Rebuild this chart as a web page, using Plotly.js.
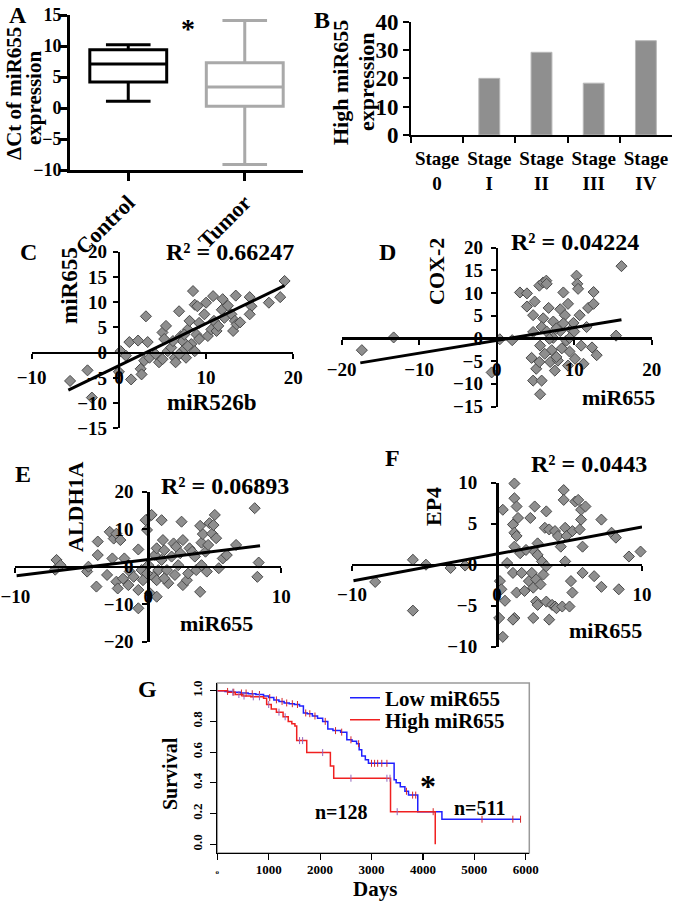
<!DOCTYPE html>
<html>
<head>
<meta charset="utf-8">
<script src="https://cdn.plot.ly/plotly-3.0.1.min.js"></script>
<style>html,body{margin:0;padding:0;background:#fff;}#chart{width:675px;height:903px;}</style>
</head>
<body>
<div id="chart"></div>
<script>
// ---------- DATA ----------
// Panel A: box plot summary (ΔCt of miR655)
const boxGroups = ['Control', 'Tumor'];
const boxMin = [1.1, -9.1];
const boxQ1 = [4.2, 0.3];
const boxMedian = [7.1, 3.4];
const boxQ3 = [9.4, 7.3];
const boxMax = [10.2, 14.1];

// Panel B: high miR655 expression by stage
const stages = ['Stage 0', 'Stage I', 'Stage II', 'Stage III', 'Stage IV'];
const highPct = [0, 20, 29.2, 18.3, 33.3];

// Panel C: miR526b (x) vs miR655 (y)
const cX = [-5.6,-3.6,-3.1,0.2,0.8,1.2,1.4,2.2,2.5,2.6,3.1,3.3,2.9,3.5,4.2,4.6,5.0,5.4,5.2,5.0,5.6,6.0,6.4,6.5,6.9,7.1,7.3,7.5,7.7,7.9,8.1,8.3,8.5,8.7,8.7,8.9,9.0,9.2,9.2,9.8,10.0,10.2,10.6,10.9,10.8,11.2,11.4,11.8,11.9,12.1,12.5,12.9,13.1,13.4,13.3,13.5,13.9,15.0,15.2,15.0,17.2,18.5,19.0,6.2,6.9,7.5,7.9,0.0];
const cY = [-5.6,-3.5,-8.9,0.3,-0.6,2.1,-5.3,2.4,-3.2,-4.3,7.2,2.1,-1.6,-1.0,-0.3,-1.9,4.0,5.3,2.7,-1.3,0.3,1.0,-1.0,-1.9,8.2,3.3,2.3,0.7,-1.0,4.6,6.3,1.7,12.2,0.3,9.5,3.6,9.2,5.9,2.7,7.6,9.9,3.3,4.6,6.3,11.2,4.3,5.3,8.5,10.6,6.9,9.3,7.6,4.3,11.3,6.3,5.6,6.0,11.0,9.2,7.6,9.9,11.0,14.2,2.3,-0.3,3.6,1.3,-3.8];
const cTrendX = [-5.8, 19.0];
const cTrendY = [-7.4, 13.3];
const cR2 = '0.66247';

// Panel D: miR655 (x) vs COX-2 (y)
const dX = [-17.4,-13.3,-0.65,0.4,2.0,3.0,3.9,3.9,4.5,4.7,4.9,4.7,5.1,5.5,5.8,5.6,6.0,5.8,5.6,6.0,6.4,6.45,6.7,6.9,7.1,7.3,7.3,7.5,7.9,8.2,8.2,8.6,8.8,9.0,9.2,9.4,9.6,9.9,10.3,10.4,10.5,10.1,10.7,10.9,11.2,11.6,11.8,12.3,12.5,12.5,12.9,15.4,16.1,6.45,7.7,8.6,6.2,7.7,8.4,9.4,6.8,10.0,9.2,4.7,5.5];
const dY = [-2.6,0.2,-7.5,-0.2,-0.4,10.1,9.9,7.0,-4.3,-9.3,8.1,5.1,-6.7,11.6,-9.3,-12.3,4.4,2.5,-1.6,12.3,12.7,12.0,6.7,-5.2,-2.6,3.7,0.1,-7.1,-4.9,1.6,6.4,10.1,5.1,-0.5,7.6,-2.9,2.0,3.4,13.8,12.0,10.9,-4.5,5.1,-1.6,-5.6,2.5,6.7,-2.0,7.6,10.2,-3.7,0.6,15.9,1.5,2.2,3.3,-3.4,-4.1,-2.2,0.1,-0.1,1.5,-6.0,1.4,-5.2];
const dTrendX = [-17.6, 16.1];
const dTrendY = [-5.4, 4.1];
const dR2 = '0.04224';

// Panel E: miR655 (x) vs ALDH1A (y)
const eX = [-6.9,-7.0,-6.6,-4.6,-4.5,-3.8,-3.8,-3.9,-3.1,-2.9,-2.6,-2.4,-2.1,-2.7,-2.4,-2.3,-1.9,-1.8,-1.5,-1.4,-1.1,-0.75,-0.75,-0.75,-0.5,-0.4,-0.2,-0.1,0.0,0.13,0.25,0.38,0.5,0.63,0.63,0.75,1.0,1.0,1.1,1.2,1.4,1.5,1.75,1.9,2.0,2.1,2.25,2.4,2.5,2.6,2.6,2.9,3.0,3.1,3.3,3.5,3.6,3.9,4.0,4.1,3.9,4.0,4.3,4.4,4.5,4.6,4.8,4.9,5.0,5.1,5.3,5.6,5.9,6.6,8.0,8.3,8.2,-0.1,0.63,1.2];
const eY = [1.8,-0.8,0.4,-1.3,0,6.7,3.1,-5.3,-2.2,9.3,7.5,8.8,7.1,2.2,-4.0,-5.8,-3.2,2.2,-4.9,-1.3,-2.7,4.6,-6.2,-11.1,-0.9,-3.6,12.4,9.8,0.4,-7.1,13.8,-2.7,3.1,-8.0,4.9,-0.9,12.4,1.8,7.1,4.4,-0.9,-4.4,2.7,6.2,-2.2,5.3,0.4,3.6,12.0,-4.9,7.1,-3.6,-1.8,4.9,4.0,2.7,-0.9,-6.7,6.4,8.7,10.9,0.4,4.0,-1.3,5.8,11.6,8.8,11.1,13.8,7.6,-0.4,2.2,3.1,5.8,15.6,1.1,-2.7,-1.8,-3.6,-3.1];
const eTrendX = [-9.9, 8.4];
const eTrendY = [-2.4, 5.6];
const eR2 = '0.06893';

// Panel F: miR655 (x) vs EP4 (y)
const fX = [-8.4,-5.8,-5.8,-4.9,-3.2,-2.2,0.4,0.2,0.3,0.7,0.55,0.15,0.4,1.2,1.2,1.35,1.45,1.1,1.2,1.35,1.2,1.1,1.35,1.2,1.6,1.7,1.9,2.0,2.2,2.3,2.4,2.5,2.6,2.6,2.7,2.8,2.8,3.0,3.1,2.7,2.8,2.5,3.2,3.3,3.4,3.6,3.4,3.4,3.6,3.8,4.0,4.0,4.1,4.2,4.4,4.5,4.6,4.6,4.7,4.7,4.8,5.0,5.1,5.2,5.2,5.4,5.6,5.7,5.8,5.8,5.9,5.9,6.1,6.7,7.2,7.2,7.9,8.2,8.4,9.1,9.9,1.1];
const fY = [-2.1,0.6,-5.6,0,-0.4,-0.1,6.7,-2.0,-3.0,0.2,-4.4,-6.5,-8.8,9.9,8.1,7.1,5.7,4.9,3.9,3.5,2.2,-1.0,-3.4,-6.5,1.4,-1.0,-3.2,1.8,-2.0,5.7,-1.0,-2.8,7.1,1.6,-1.8,2.6,1.2,-2.4,0.4,-4.5,-4.9,-6.5,-1.2,4.5,6.5,4.3,-4.5,-0.2,-6.7,-4.9,4.1,-5.1,-5.3,3.5,2.2,-5.1,9.1,7.9,4.5,0.4,3.5,-5.1,-2.0,4.1,-3.4,7.7,7.9,4.3,5.5,6.7,2.2,-1.0,7.1,-1.4,5.5,-2.7,3.9,3.3,-3.0,1.0,1.6,-6.7];
const fTrendX = [-9.9, 10.0];
const fTrendY = [-1.95, 4.6];
const fR2 = '0.0443';

// Panel G: Kaplan-Meier survival
const lowDays = [0,150,300,450,600,750,900,1000,1100,1200,1300,1400,1500,1600,1675,1750,1850,1950,2050,2150,2250,2400,2520,2620,2710,2760,2810,2880,2940,3440,3480,3560,3650,3720,3900,4370,5900];
const lowSurv = [1.0,0.995,0.99,0.985,0.98,0.975,0.965,0.955,0.94,0.93,0.92,0.915,0.91,0.9,0.855,0.85,0.835,0.82,0.8,0.75,0.74,0.73,0.68,0.67,0.655,0.615,0.575,0.55,0.527,0.42,0.4,0.375,0.345,0.32,0.212,0.163,0.163];
const highDays = [0,200,350,500,650,900,960,1050,1150,1280,1380,1450,1510,1545,1740,2200,2265,3370,4240];
const highSurv = [1.0,0.99,0.975,0.965,0.96,0.95,0.91,0.88,0.86,0.83,0.80,0.785,0.77,0.675,0.597,0.51,0.43,0.212,0.0];
const lowCensor = [200,320,470,560,680,820,1020,1150,1260,1350,1460,1560,1720,1800,1900,2100,2300,2420,2600,2750,3000,3060,3120,3200,3300,3680,3800,3860,4200,5150,5750,5900];
const highCensor = [300,420,520,700,820,1000,1200,1320,1600,1660,2050,2600,3300,3360,3500];
const gN = ['n=128', 'n=511'];

// ---------- LAYOUT HELPERS ----------
const W = 675, H = 903;
const FONT = 'Liberation Serif, Times New Roman, serif';
const px = v => v / W;
const py = v => 1 - v / H;
const bf = (size, color) => ({family: FONT, size: size, color: color || '#000', weight: 'bold'});
function zeroPos(range, dom) { return dom[0] + (0 - range[0]) / (range[1] - range[0]) * (dom[1] - dom[0]); }
function stepAt(days, surv, t) { let v = surv[0]; for (let i = 0; i < days.length; i++) { if (days[i] <= t) v = surv[i]; } return v; }

const anns = [];
function ann(text, x, y, size, extra) {
  anns.push(Object.assign({text: text, x: px(x), y: py(y), xref: 'paper', yref: 'paper', showarrow: false,
    xanchor: 'center', yanchor: 'middle', font: bf(size)}, extra || {}));
}

// ---------- TRACES ----------
const traces = [];
const boxColors = ['#000000', '#a9a9a9'];
boxGroups.forEach((g, i) => {
  traces.push({type: 'box', x: [g], q1: [boxQ1[i]], median: [boxMedian[i]], q3: [boxQ3[i]],
    lowerfence: [boxMin[i]], upperfence: [boxMax[i]], xaxis: 'x', yaxis: 'y',
    line: {color: boxColors[i], width: 3}, fillcolor: 'rgba(0,0,0,0)', width: 0.66, whiskerwidth: 0.58,
    boxpoints: false, showlegend: false, hoverinfo: 'skip'});
});
traces.push({type: 'bar', x: stages.map(s => s.replace(' ', '<br>')), y: highPct, xaxis: 'x2', yaxis: 'y2',
  width: 0.4, marker: {color: '#8f8f8f', line: {color: '#b8b8b8', width: highPct.map(v => v > 0 ? 1 : 0)}}, showlegend: false, hoverinfo: 'skip'});

const scat = [[cX, cY, cTrendX, cTrendY, 3], [dX, dY, dTrendX, dTrendY, 4], [eX, eY, eTrendX, eTrendY, 5], [fX, fY, fTrendX, fTrendY, 6]];
scat.forEach(s => {
  traces.push({type: 'scatter', mode: 'markers', x: s[0], y: s[1], xaxis: 'x' + s[4], yaxis: 'y' + s[4],
    marker: {symbol: 'diamond', size: 8.5, color: '#8e8e8e', line: {color: '#4a4a4a', width: 1}},
    showlegend: false, hoverinfo: 'skip', cliponaxis: false});
  traces.push({type: 'scatter', mode: 'lines', x: s[2], y: s[3], xaxis: 'x' + s[4], yaxis: 'y' + s[4],
    line: {color: '#000', width: 3}, showlegend: false, hoverinfo: 'skip'});
});

traces.push({type: 'scatter', mode: 'lines', x: lowDays, y: lowSurv, xaxis: 'x7', yaxis: 'y7', name: 'Low miR655',
  line: {shape: 'hv', color: '#2020ff', width: 1.5}, legend: 'legend', hoverinfo: 'skip'});
traces.push({type: 'scatter', mode: 'lines', x: highDays, y: highSurv, xaxis: 'x7', yaxis: 'y7', name: 'High miR655',
  line: {shape: 'hv', color: '#f02020', width: 1.5}, legend: 'legend2', hoverinfo: 'skip'});
traces.push({type: 'scatter', mode: 'markers', x: lowCensor, y: lowCensor.map(t => stepAt(lowDays, lowSurv, t)), xaxis: 'x7', yaxis: 'y7',
  marker: {symbol: 'line-ns-open', size: 5, line: {color: '#2020ff', width: 1}}, showlegend: false, hoverinfo: 'skip'});
traces.push({type: 'scatter', mode: 'markers', x: highCensor, y: highCensor.map(t => stepAt(highDays, highSurv, t)), xaxis: 'x7', yaxis: 'y7',
  marker: {symbol: 'line-ns-open', size: 5, line: {color: '#f02020', width: 1}}, showlegend: false, hoverinfo: 'skip'});

// ---------- AXES ----------
const base = {showgrid: false, zeroline: false, showline: true, linecolor: '#000', ticks: 'outside', tickcolor: '#000', fixedrange: true};
function crossAxes(n, xr, xd, yr, yd, xt, yt, xso, yso) {
  const xdom = [px(xd[0]), px(xd[1])], ydom = [py(yd[0]), py(yd[1])];
  const lay = {};
  lay['xaxis' + n] = Object.assign({}, base, {domain: xdom, range: xr, anchor: 'free', position: zeroPos(yr, ydom),
    tickvals: xt, linewidth: 2.5, ticklen: 5, tickwidth: 2, tickfont: bf(19), ticklabelstandoff: xso});
  lay['yaxis' + n] = Object.assign({}, base, {domain: ydom, range: yr, anchor: 'free', position: zeroPos(xr, xdom),
    tickvals: yt, linewidth: 2.5, ticklen: 5, tickwidth: 2, tickfont: bf(19), ticklabelstandoff: yso});
  return lay;
}

const layout = Object.assign({
  width: W, height: H, margin: {l: 0, r: 0, t: 0, b: 0}, paper_bgcolor: '#fff', plot_bgcolor: 'rgba(0,0,0,0)',
  showlegend: true, boxmode: 'overlay', bargap: 0,
  xaxis: Object.assign({}, base, {domain: [px(70), px(303)], anchor: 'y', type: 'category', range: [-0.5, 1.5],
    linewidth: 3, ticklen: 8, tickwidth: 3, tickangle: -45, tickfont: bf(22)}),
  yaxis: Object.assign({}, base, {domain: [py(170), py(15)], anchor: 'x', range: [-10, 15], tickvals: [-10, -5, 0, 5, 10, 15],
    linewidth: 3, ticklen: 7, tickwidth: 3, tickfont: bf(18), ticklabelstandoff: -5}),
  xaxis2: Object.assign({}, base, {domain: [px(411), px(672)], anchor: 'y2', type: 'category', range: [-0.5, 4.5],
    tickson: 'boundaries', tickangle: 0, linewidth: 2, ticklen: 6, tickwidth: 2, tickfont: bf(19), ticklabelstandoff: 5}),
  yaxis2: Object.assign({}, base, {domain: [py(135), py(21.7)], anchor: 'x2', range: [0, 40], tickvals: [0, 10, 20, 30, 40],
    linewidth: 2, ticklen: 6, tickwidth: 2, tickfont: bf(23)}),
  xaxis7: Object.assign({}, base, {domain: [px(217.3), px(529.3)], anchor: 'y7', range: [0, 6070],
    tickvals: [0, 1000, 2000, 3000, 4000, 5000, 6000],
    ticktext: ['<span style="font-size:7px">o</span>', '1000', '2000', '3000', '4000', '5000', '6000'],
    linewidth: 1.2, ticklen: 6, tickwidth: 1.2, tickfont: bf(13), ticklabelstandoff: -2}),
  yaxis7: Object.assign({}, base, {domain: [py(853), py(683)], anchor: 'x7', range: [-0.057, 1.05],
    tickvals: [0, 0.2, 0.4, 0.6, 0.8, 1.0], ticktext: ['0.0', '0.2', '0.4', '0.6', '0.8', '1.0'], tickangle: -90,
    linewidth: 1.2, ticklen: 6, tickwidth: 1.2, tickfont: bf(13), ticklabelstandoff: 3}),
  legend: {x: px(345), y: py(698), xanchor: 'left', yanchor: 'middle', font: bf(21), bgcolor: 'rgba(0,0,0,0)', borderwidth: 0},
  legend2: {x: px(345), y: py(720), xanchor: 'left', yanchor: 'middle', font: bf(21), bgcolor: 'rgba(0,0,0,0)', borderwidth: 0},
  shapes: [{type: 'rect', xref: 'x7 domain', yref: 'y7 domain', x0: 0, x1: 1, y0: 0, y1: 1, line: {color: '#9a9a9a', width: 1.5}, layer: 'below'}]
},
  crossAxes(3, [-10, 20], [31.7, 293.3], [-15, 20], [428.4, 251.7], [-10, 0, 10, 20], [-15, -10, -5, 0, 5, 10, 15, 20], 2, 2),
  crossAxes(4, [-20, 20], [341.7, 651.7], [-15, 20], [406.5, 247.5], [-20, -10, 0, 10, 20], [-15, -10, -5, 0, 5, 10, 15, 20], 8, 4),
  crossAxes(5, [-10, 10], [15.3, 281.3], [-20, 20], [641.7, 491.7], [-10, 0, 10], [-20, -10, 0, 10, 20], 7, 5),
  crossAxes(6, [-10, 10], [352, 642], [-10, 10], [646.7, 482.7], [-10, 0, 10], [-10, -5, 0, 5, 10], 7, 10)
);

// ---------- TEXT ----------
ann('A', 18, 15, 24);
ann('*', 188, 28, 28);
ann('ΔCt of miR655', 14, 94, 21, {textangle: -90});
ann('expression', 34, 98, 21, {textangle: -90});
ann('B', 322, 20, 24);
ann('High miR655', 340, 82, 22, {textangle: -90});
ann('expression', 366, 82, 22, {textangle: -90});
ann('C', 28, 252, 24);
ann('R² = ' + cR2, 230, 252, 24);
ann('miR655', 70, 286, 23, {textangle: -90});
ann('miR526b', 211, 402, 23);
ann('D', 387, 252, 24);
ann('R² = ' + dR2, 575, 242, 24);
ann('COX-2', 436, 272, 22, {textangle: -90});
ann('miR655', 618, 398, 22);
ann('E', 23, 474, 24);
ann('R² = ' + eR2, 225, 486, 24);
ann('ALDH1A', 75, 507, 22, {textangle: -90});
ann('miR655', 216, 623, 22);
ann('F', 392, 458, 24);
ann('R² = ' + fR2, 589, 464, 24);
ann('EP4', 433, 506, 22, {textangle: -90});
ann('miR655', 605, 630, 22);
ann('G', 147, 689, 24);
ann('Survival', 170, 773, 20, {textangle: -90});
ann('Days', 375, 889, 21);
ann('*', 428, 786, 32);
ann(gN[0], 341, 812, 20);
ann(gN[1], 479, 808, 20);
layout.annotations = anns;

Plotly.newPlot('chart', traces, layout, {staticPlot: true, displayModeBar: false});
</script>
</body>
</html>
